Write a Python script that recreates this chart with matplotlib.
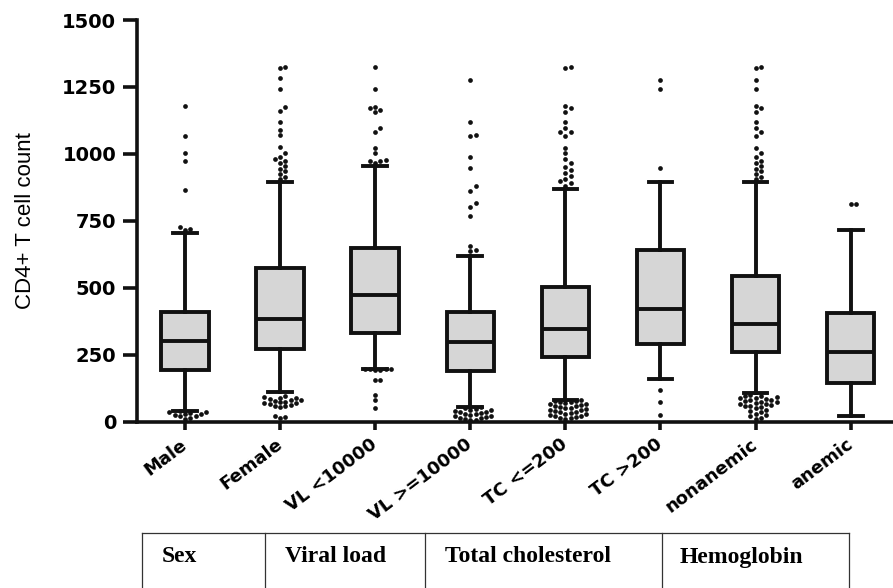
import numpy as np
import matplotlib
matplotlib.use("Agg")
import matplotlib.pyplot as plt
from matplotlib.lines import Line2D

groups = ["Male", "Female", "VL <10000", "VL >=10000",
          "TC <=200", "TC >200", "nonanemic", "anemic"]

medians = [301, 382, 473, 296, 346, 420, 365, 261]
q1 = [193, 270, 330, 189, 243, 290, 259, 146]
q3 = [411, 573, 647, 408, 502, 641, 544, 405]
whisker_lo = [41, 112, 197, 54, 81, 159, 108, 21]
whisker_hi = [706, 896, 956, 620, 868, 894, 894, 716]

# points beyond the whiskers, per group
outliers = [
    [1179, 1067, 1002, 975, 865, 728, 720, 716,
     40, 37, 35, 33, 30, 28, 25, 22, 20, 15, 10],
    [1326, 1322, 1282, 1241, 1174, 1160, 1120, 1089, 1071, 1027, 1002, 990,
     980, 975, 965, 955, 945, 935, 925, 915, 905,
     95, 92, 90, 88, 85, 82, 80, 78, 75, 72, 70, 68, 65, 62, 60, 57, 54,
     20, 17, 12],
    [1326, 1241, 1176, 1170, 1165, 1158, 1098, 1083, 1023, 1002, 977, 975,
     972, 965, 198, 197, 196, 195, 194, 193, 156, 155, 100, 81, 51],
    [1276, 1120, 1071, 1068, 987, 946, 880, 863, 815, 800, 768, 657, 640,
     636, 55, 52, 48, 45, 42, 40, 37, 35, 32, 30, 28, 25, 22, 20, 18, 15,
     12, 10, 8, 5],
    [1326, 1322, 1177, 1172, 1158, 1120, 1098, 1083, 1080, 1066, 1023, 1002,
     980, 966, 950, 940, 930, 917, 905, 897, 890, 880,
     80, 78, 76, 74, 72, 70, 67, 65, 62, 60, 58, 55, 52, 50, 47, 45, 42, 40,
     37, 35, 32, 30, 27, 25, 22, 20, 17, 15, 12, 10],
    [1276, 1241, 946, 118, 72, 25],
    [1326, 1322, 1276, 1241, 1177, 1170, 1158, 1120, 1098, 1083, 1066, 1023,
     1002, 990, 975, 965, 955, 945, 935, 925, 915, 905,
     100, 97, 95, 92, 90, 87, 85, 82, 80, 77, 75, 72, 70, 67, 65, 62, 60,
     57, 55, 50, 45, 40, 35, 30, 25, 20, 15, 10],
    [813, 812],
]

table_headers = ["Sex", "Viral load", "Total cholesterol", "Hemoglobin"]

BOX_FILL = "#d6d6d6"
INK = "#111111"


def swarm_offsets(values, x_scale, y_scale, dot=5.0):
    """Spread close points sideways so dots don't sit on top of each other."""
    placed = []
    offsets = np.zeros(len(values))
    order = np.argsort(values)
    for idx in order:
        y = values[idx] * y_scale
        k = 0
        while True:
            step = (k + 1) // 2 * (1 if k % 2 else -1)
            x = step * dot * 1.05
            if all((x - px) ** 2 + (y - py) ** 2 >= (dot * 0.95) ** 2
                   for px, py in placed):
                break
            k += 1
        placed.append((x, y))
        offsets[idx] = x / x_scale
    return offsets


fig = plt.figure(figsize=(8.93, 5.88), dpi=100)
ax = fig.add_axes([137 / 893, 166.3 / 588, 756 / 893, 401.7 / 588])

stats = []
for i in range(len(groups)):
    stats.append(dict(med=medians[i], q1=q1[i], q3=q3[i],
                      whislo=whisker_lo[i], whishi=whisker_hi[i], fliers=[]))

lw = 2.8
ax.bxp(stats, positions=range(len(groups)), widths=0.5, capwidths=0.25,
       patch_artist=True, showfliers=False,
       boxprops=dict(facecolor=BOX_FILL, edgecolor=INK, linewidth=lw),
       medianprops=dict(color=INK, linewidth=lw),
       whiskerprops=dict(color=INK, linewidth=lw),
       capprops=dict(color=INK, linewidth=lw))

ax.set_xlim(-0.505, 7.445)
ax.set_ylim(0, 1500)

# pixels per data unit, used only to lay out the dot swarm
x_px = 95.1
y_px = 401.7 / 1500
for i, vals in enumerate(outliers):
    vals = np.array(vals, dtype=float)
    offs = swarm_offsets(vals, x_px, y_px)
    ax.plot(i + offs, vals, "o", color=INK, markersize=3.4,
            markeredgewidth=0, clip_on=False, zorder=4)

for side in ["top", "right"]:
    ax.spines[side].set_visible(False)
for side in ["left", "bottom"]:
    ax.spines[side].set_linewidth(2.6)
    ax.spines[side].set_color(INK)

ax.set_yticks(np.arange(0, 1501, 250))
ax.tick_params(axis="y", length=10, width=2.6, pad=5, color=INK,
               labelsize=14)
for lbl in ax.get_yticklabels():
    lbl.set_fontweight("bold")

ax.set_xticks(range(len(groups)))
ax.set_xticklabels(groups, rotation=37, ha="right", va="center",
                   rotation_mode="anchor", fontsize=13, fontweight="bold")
ax.tick_params(axis="x", length=6, width=2.6, pad=9, color=INK)

ax.set_ylabel("CD4+ T cell count", fontsize=16, family="Liberation Sans")
ax.yaxis.set_label_coords(-0.134, 0.5)

# category table under the axis labels
top = 1 - 532.7 / 588
xs = [142, 265, 425, 661.7, 849]
fig.add_artist(Line2D([xs[0] / 893, xs[-1] / 893], [top, top],
                      transform=fig.transFigure, color="#333333", lw=0.9))
for x in xs:
    fig.add_artist(Line2D([x / 893, x / 893], [0, top],
                          transform=fig.transFigure, color="#333333", lw=0.9))
text_x = [161.7, 285, 445, 680]
for tx, name in zip(text_x, table_headers):
    fig.text(tx / 893, 1 - 557 / 588, name, family="Liberation Serif",
             fontweight="bold", fontsize=17, ha="left", va="center")

fig.savefig("out.png", dpi=100)
